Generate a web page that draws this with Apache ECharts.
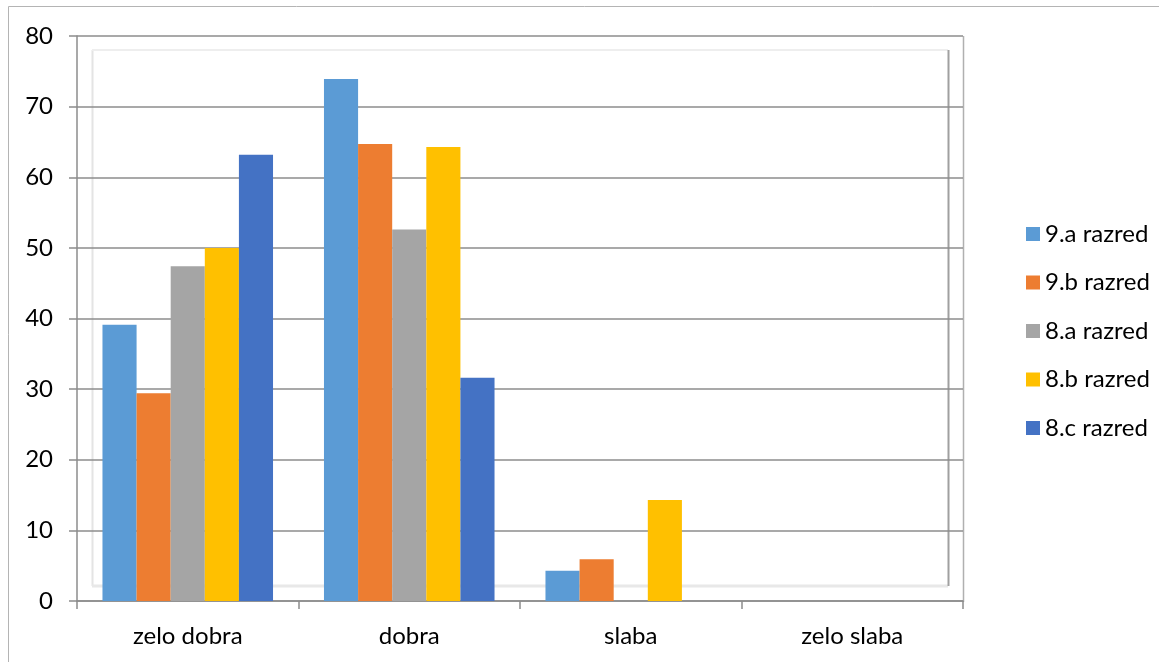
<!DOCTYPE html>
<html>
<head>
<meta charset="utf-8">
<script src="https://cdn.jsdelivr.net/npm/echarts@6/dist/echarts.min.js"></script>
<style>
  html, body { margin: 0; padding: 0; background: #fff; }
  #chart { width: 1159px; height: 662px; }
</style>
</head>
<body>
<div id="chart"></div>
<script>
// Ocene po kategorijah za posamezne razrede (v %)
const categories = ['zelo dobra', 'dobra', 'slaba', 'zelo slaba'];
const seriesNames = ['9.a razred', '9.b razred', '8.a razred', '8.b razred', '8.c razred'];
const razred9a = [39.1, 73.9, 4.3, 0];
const razred9b = [29.4, 64.7, 5.9, 0];
const razred8a = [47.4, 52.6, 0, 0];
const razred8b = [50.0, 64.3, 14.3, 0];
const razred8c = [63.2, 31.6, 0, 0];
const yTicks = { min: 0, max: 80, interval: 10 };

const colors = ['#5B9BD5', '#ED7D31', '#A5A5A5', '#FFC000', '#4472C4'];
const values = [razred9a, razred9b, razred8a, razred8b, razred8c];
const FONT = 'Lato';
const FONT_SIZE = 24;

const chart = echarts.init(document.getElementById('chart'), null, { renderer: 'canvas' });

const gridBox = { left: 77, right: 196, top: 36, bottom: 61 };

// Decorative frame: outer border and the inner back wall of the plot
const wallLine = (x1, y1, x2, y2, color, w) => ({
  type: 'line', z: -1, silent: true,
  shape: { x1, y1, x2, y2 },
  style: { stroke: color, lineWidth: w }
});

chart.setOption({
  backgroundColor: '#ffffff',
  animation: false,
  color: colors,
  textStyle: { fontFamily: FONT, color: '#000' },
  graphic: [
    { type: 'rect', z: -2, silent: true,
      shape: { x: 8.5, y: 6.5, width: 1200, height: 700 },
      style: { fill: 'none', stroke: '#b4b4b4', lineWidth: 1 } },
    wallLine(92.5, 50, 92.5, 586, '#e4e4e4', 2),
    wallLine(92, 50, 948, 50, '#eeeeee', 2),
    wallLine(92, 586, 948, 586, '#e8e8e8', 3),
    wallLine(948.5, 50, 948.5, 586, '#a0a0a0', 2),
    wallLine(963.5, 36, 963.5, 602, '#b0b0b0', 1.5)
  ],
  legend: {
    orient: 'vertical',
    left: 1021,
    top: 217,
    itemWidth: 14,
    itemHeight: 14,
    itemGap: 24.5,
    icon: 'rect',
    data: seriesNames,
    textStyle: { fontFamily: FONT, fontSize: FONT_SIZE, color: '#000', lineHeight: 24 },
    selectedMode: false
  },
  grid: gridBox,
  xAxis: {
    type: 'category',
    data: categories,
    boundaryGap: true,
    axisLine: { show: true, lineStyle: { color: '#8c8c8c', width: 1.5 } },
    axisTick: { show: true, length: 8, lineStyle: { color: '#8c8c8c', width: 1.5 } },
    axisLabel: { fontFamily: FONT, fontSize: FONT_SIZE, color: '#000', margin: 23 },
    splitLine: { show: false }
  },
  yAxis: {
    type: 'value',
    min: yTicks.min,
    max: yTicks.max,
    interval: yTicks.interval,
    axisLine: { show: true, lineStyle: { color: '#8c8c8c', width: 1.5 } },
    axisTick: { show: true, length: 8, lineStyle: { color: '#8c8c8c', width: 1.5 } },
    axisLabel: { fontFamily: FONT, fontSize: FONT_SIZE, color: '#000', margin: 24 },
    splitLine: { show: true, lineStyle: { color: '#8c8c8c', width: 1.5 } }
  },
  series: seriesNames.map((name, i) => ({
    name,
    type: 'bar',
    data: values[i],
    barGap: '0%',
    barCategoryGap: '23%',
    itemStyle: { color: colors[i], borderWidth: 0 }
  }))
});
</script>
</body>
</html>
